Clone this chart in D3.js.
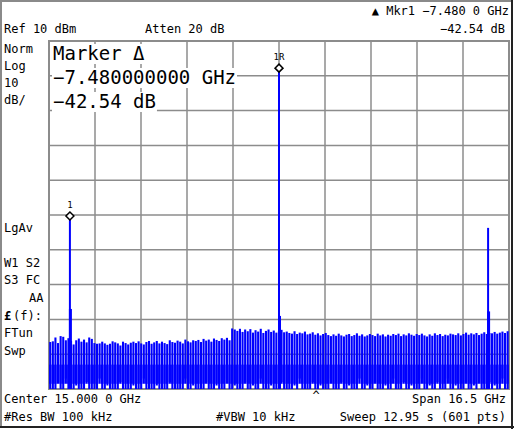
<!DOCTYPE html>
<html><head><meta charset="utf-8">
<script src="https://cdn.jsdelivr.net/npm/d3@7"></script>
<style>body{margin:0;background:#fff}svg text{font-family:"DejaVu Sans Mono",monospace;fill:#000}</style>
</head><body><svg id="c" width="514" height="429"></svg>
<script>
const refLevel = 10, dbPerDiv = 10, divisions = 10;
const centerGHz = 15.0, spanGHz = 16.5;
// spectral lines: frequency (GHz), peak level (dBm), shoulder level (dBm)
const peakFreqs = [7.5, 15.0, 22.5];
const peakLevels = [-40.3, 2.2, -43.7];
const peakShoulders = [-67.0, -69.0, -67.7];
const markerFreqs = [7.5, 15.0];
const markerLabels = ["1", "1R"];
// noise comb: top level (dBm) of each comb bar, left to right
const combTops = [
-76.5,-76.3,-75.2,-76.8,-74.8,-75.0,-76.0,-75.4,-76.2,-77.2,-76.0,-75.5,-76.4,-75.8,-76.6,-75.2,-75.6,-76.8,-77.0,-76.9,
-76.4,-76.9,-77.3,-77.0,-76.3,-76.6,-76.9,-77.5,-76.4,-76.8,-77.2,-76.7,-76.4,-76.8,-76.3,-76.9,-77.2,-76.5,-76.2,-77.0,
-76.6,-76.2,-76.9,-76.4,-76.8,-77.1,-76.0,-76.5,-76.7,-76.1,-76.4,-76.9,-75.8,-76.3,-76.6,-76.0,-76.2,-75.9,-76.5,-75.6,
-76.1,-75.8,-76.4,-75.5,-75.9,-76.2,-75.4,-75.8,-75.3,-76.0,-72.6,-72.9,-73.3,-72.7,-73.6,-72.9,-73.4,-72.8,-73.8,-73.1,
-73.5,-72.7,-73.9,-73.3,-72.9,-73.6,-73.2,-73.8,-73.4,-73.0,-73.7,-73.5,-73.9,-74.1,-73.4,-74.2,-73.8,-74.0,-73.5,-74.3,
-74.1,-73.7,-74.4,-74.0,-74.6,-74.2,-73.9,-74.5,-74.8,-74.3,-74.7,-74.1,-74.6,-74.9,-74.4,-74.2,-74.8,-74.5,-74.0,-74.7,
-74.3,-74.9,-74.6,-74.2,-74.5,-74.8,-74.1,-74.6,-74.3,-74.9,-74.4,-74.7,-74.2,-74.5,-74.1,-74.8,-74.3,-74.6,-74.0,-74.4,
-74.7,-74.2,-74.5,-74.1,-74.6,-74.9,-74.3,-74.7,-74.0,-74.5,-74.2,-74.8,-74.4,-74.6,-74.1,-74.3,-74.5,-74.0,-74.6,-74.2,
-73.8,-74.4,-74.0,-74.3,-73.9,-74.5,-74.1,-73.7,-74.2,-73.9,-74.0,-73.6,-74.1,-73.8,-73.5,-73.9,-73.4
];
// comb bar bottom levels (dBm)
const combBottoms = [
-90,-90,-90,-88,-90,-90,-87,-90,-90,-90,-89,-90,-90,-90,-88,-90,-90,-90,-90,-87,
-90,-90,-89,-90,-90,-90,-90,-88,-90,-90,-90,-90,-89,-90,-90,-90,-87,-90,-90,-90,
-90,-89,-90,-90,-90,-90,-88,-90,-90,-90,-90,-90,-87,-90,-90,-89,-90,-90,-90,-90,
-88,-90,-90,-90,-89,-90,-90,-90,-87,-90,-90,-89,-90,-90,-90,-88,-90,-90,-89,-90,
-90,-87,-90,-90,-90,-89,-90,-90,-90,-88,-90,-90,-90,-90,-89,-90,-87,-90,-90,-90,
-90,-88,-90,-90,-89,-90,-90,-90,-87,-90,-90,-90,-88,-90,-90,-89,-90,-90,-90,-87,
-90,-90,-89,-90,-90,-88,-90,-90,-90,-89,-90,-90,-87,-90,-90,-90,-88,-90,-90,-89,
-90,-90,-90,-87,-90,-90,-89,-90,-90,-88,-90,-90,-90,-87,-90,-90,-89,-90,-90,-90,
-88,-90,-90,-89,-90,-87,-90,-90,-90,-88,-90,-89,-90,-90,-87,-90,-90
];

const svg = d3.select("#c");
const L = 49, R = 509, T = 41, B = 389;
const x = d3.scaleLinear().domain([centerGHz - spanGHz/2, centerGHz + spanGHz/2]).range([L, R]);
const y = d3.scaleLinear().domain([refLevel, refLevel - dbPerDiv*divisions]).range([T, B]);

svg.append("rect").attr("x",1).attr("y",1).attr("width",511).attr("height",426).attr("fill","none").attr("stroke","#8a8a8a").attr("stroke-width",2);
svg.append("line").attr("x1",512).attr("x2",512).attr("y1",0).attr("y2",429).attr("stroke","#222").attr("stroke-width",2);
svg.append("line").attr("x1",0).attr("x2",514).attr("y1",427).attr("y2",427).attr("stroke","#222").attr("stroke-width",2);

const g = svg.append("g");
const xt = d3.range(divisions+1).map(i => x.domain()[0] + i*spanGHz/divisions);
const yt = d3.range(divisions+1).map(i => refLevel - i*dbPerDiv);
g.selectAll(".vx").data(xt).join("line").attr("x1",d=>x(d)).attr("x2",d=>x(d)).attr("y1",T).attr("y2",B).attr("stroke","#8c8c8c").attr("stroke-width",1.5);
g.selectAll(".hy").data(yt).join("line").attr("y1",d=>y(d)).attr("y2",d=>y(d)).attr("x1",L).attr("x2",R).attr("stroke","#8c8c8c").attr("stroke-width",1.5);
svg.append("rect").attr("x",L).attr("y",T).attr("width",R-L).attr("height",B-T).attr("fill","none").attr("stroke","#8c8c8c").attr("stroke-width",2);

const n = combTops.length;
const bw = (x.range()[1]-x.range()[0])/n;
svg.append("g").selectAll("rect").data(combTops).join("rect")
  .attr("x",(d,i)=>L+ i*bw + 0.2).attr("width",bw*0.8)
  .attr("y",d=>y(d)).attr("height",(d,i)=>y(combBottoms[i])-y(d)).attr("fill","#0000ff");
svg.append("g").selectAll("rect").data(combTops).join("rect")
  .attr("x",(d,i)=>L+ i*bw).attr("width",bw*0.9)
  .attr("y",y(-83)).attr("height",y(-88.5)-y(-83)).attr("fill","#0000ff");

peakFreqs.forEach((f,i)=>{
  svg.append("line").attr("x1",x(f)).attr("x2",x(f)).attr("y1",y(peakLevels[i])).attr("y2",B).attr("stroke","#0000ff").attr("stroke-width",2);
  svg.append("line").attr("x1",x(f)+0.5).attr("x2",x(f)+0.5).attr("y1",y(peakShoulders[i])).attr("y2",B).attr("stroke","#0000ff").attr("stroke-width",3);
});

markerFreqs.forEach((f,i)=>{
  const lev = peakLevels[peakFreqs.indexOf(f)];
  const cx = x(f), cy = y(lev);
  svg.append("path").attr("d",`M${cx},${cy-4}L${cx+4},${cy}L${cx},${cy+4}L${cx-4},${cy}Z`).attr("fill","#fff").attr("stroke","#000").attr("stroke-width",1.5);
  svg.append("text").attr("x",cx).attr("y",cy-8).attr("text-anchor","middle").style("font-size","9px").text(markerLabels[i]);
});

const mk = [["Marker Δ",60],["−7.480000000 GHz",84],["−42.54 dB",108]];
mk.forEach(([t,yy])=>{
  const tx = svg.append("text").attr("x",53).attr("y",yy).style("font-size","19px").text(t);
  const bb = tx.node().getBBox();
  svg.insert("rect","text").attr("x",bb.x-1).attr("y",bb.y+2).attr("width",bb.width+2).attr("height",bb.height-2).attr("fill","#fff");
});

function txt(s,xx,yy,anchor){svg.append("text").attr("x",xx).attr("y",yy).attr("text-anchor",anchor||"start").style("font-size","12px").text(s);}
txt("Ref 10 dBm",4,33); txt("Atten 20 dB",145,33);
txt("▲ Mkr1  −7.480 0 GHz",509,15,"end"); txt("−42.54 dB",505,33,"end");
txt("Norm",4,53); txt("Log",4,70); txt("10",4,87); txt("dB/",4,104);
txt("LgAv",4,232); txt("W1  S2",4,267); txt("S3  FC",4,284); txt("AA",29,302);
txt("(f):",13,320); svg.append("text").attr("x",4).attr("y",320).style("font-size","12px").style("font-weight","bold").text("£");
txt("FTun",4,337); txt("Swp",4,355);
txt("Center 15.000 0 GHz",4,403); txt("Span 16.5 GHz",506,403,"end"); txt("^",316,400,"middle");
txt("#Res BW 100 kHz",4,421); txt("#VBW 10 kHz",216,421); txt("Sweep 12.95 s (601 pts)",506,421,"end");
</script></body></html>
